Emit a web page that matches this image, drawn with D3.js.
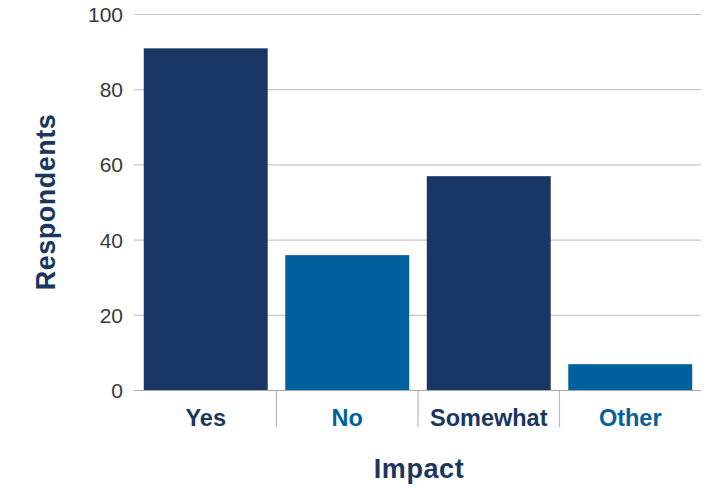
<!DOCTYPE html>
<html><head><meta charset="utf-8">
<script src="https://cdn.jsdelivr.net/npm/d3@7"></script>
<style>body{margin:0;background:#fff;} svg{display:block;}</style>
</head><body>
<svg id="c" width="716" height="489"></svg>
<script>
const categories = ["Yes", "No", "Somewhat", "Other"];
const values = [91, 36, 57, 7];
const barColors = ["#183764", "#00619e", "#183764", "#00619e"];
const labelColors = ["#1b365f", "#00619e", "#1b365f", "#00619e"];
const yTicks = [0, 20, 40, 60, 80, 100];

const svg = d3.select("#c");
const font = "'Liberation Sans', Arial, Helvetica, sans-serif";
const x = d3.scaleBand().domain(categories).range([135, 701]).paddingInner(0.124).paddingOuter(0.062);
const y = d3.scaleLinear().domain([0, 100]).range([390.5, 14.5]);

// gridlines
svg.append("g").selectAll("line").data(yTicks.filter(d => d > 0)).join("line")
  .attr("x1", 134).attr("x2", 701)
  .attr("y1", d => y(d)).attr("y2", d => y(d))
  .attr("stroke", "#c8c8c8").attr("stroke-width", 1.2);

// bars
svg.append("g").selectAll("rect").data(categories).join("rect")
  .attr("x", d => x(d)).attr("width", x.bandwidth())
  .attr("y", (d, i) => y(values[i])).attr("height", (d, i) => y(0) - y(values[i]))
  .attr("fill", (d, i) => barColors[i]);

// baseline axis
svg.append("line").attr("x1", 134).attr("x2", 701).attr("y1", y(0)).attr("y2", y(0))
  .attr("stroke", "#a8a8a8").attr("stroke-width", 1.2);

// category separators
const step = x.step();
svg.append("g").selectAll("line").data(categories.slice(1)).join("line")
  .attr("x1", d => x(d) - (step - x.bandwidth()) / 2).attr("x2", d => x(d) - (step - x.bandwidth()) / 2)
  .attr("y1", y(0)).attr("y2", 427)
  .attr("stroke", "#b8b8b8").attr("stroke-width", 1.2);

// y tick labels
svg.append("g").selectAll("text").data(yTicks).join("text")
  .attr("x", 123).attr("y", d => y(d)).attr("dy", "0.36em")
  .attr("text-anchor", "end").attr("font-family", font).attr("font-size", 21)
  .attr("fill", "#3a3a3a").text(d => d);

// category labels
svg.append("g").selectAll("text").data(categories).join("text")
  .attr("x", d => x(d) + x.bandwidth() / 2).attr("y", 425.5)
  .attr("text-anchor", "middle").attr("font-family", font).attr("font-size", 23.5)
  .attr("font-weight", "bold").attr("fill", (d, i) => labelColors[i]).text(d => d);

// axis titles
svg.append("text").attr("x", 419).attr("y", 477.5).attr("text-anchor", "middle")
  .attr("font-family", font).attr("font-size", 27).attr("font-weight", "bold")
  .attr("letter-spacing", 0.6).attr("fill", "#1b365f").text("Impact");
svg.append("text").attr("transform", "translate(54.5,202) rotate(-90)").attr("text-anchor", "middle")
  .attr("font-family", font).attr("font-size", 27).attr("font-weight", "bold")
  .attr("letter-spacing", 0.5).attr("fill", "#1b365f").text("Respondents");
</script>
</body></html>
